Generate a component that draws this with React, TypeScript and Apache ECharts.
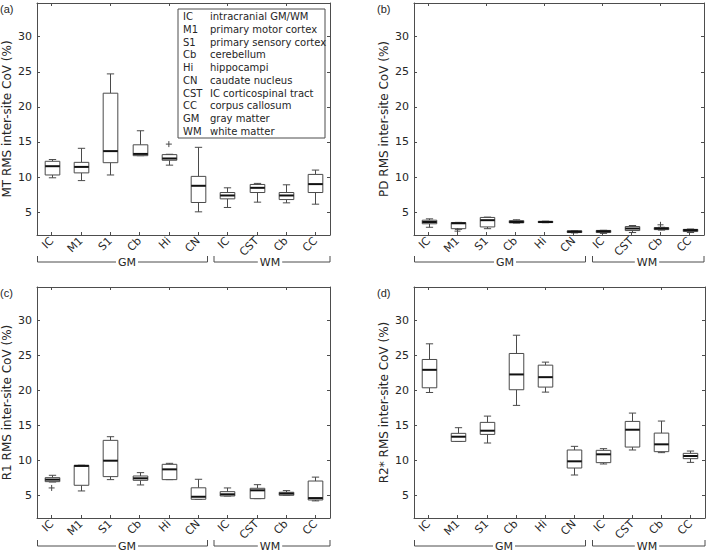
import React, { useEffect, useRef } from "react";
import * as echarts from "echarts";

const categories = ["IC", "M1", "S1", "Cb", "Hi", "CN", "IC", "CST", "Cb", "CC"];
const yTicks = [5, 10, 15, 20, 25, 30];

// [lower whisker, Q1, median, Q3, upper whisker]
const mtStats = [
  [9.9, 10.3, 11.55, 12.25, 12.5],
  [9.5, 10.6, 11.45, 12.1, 14.1],
  [10.3, 12.05, 13.7, 21.95, 24.7],
  [13.05, 13.05, 13.3, 14.6, 16.6],
  [11.7, 12.4, 12.65, 13.2, 13.25],
  [5.05, 6.38, 8.76, 10.1, 14.24],
  [5.67, 6.9, 7.38, 7.8, 8.47],
  [6.43, 7.8, 8.47, 8.95, 9.1],
  [6.33, 6.8, 7.38, 7.8, 8.9],
  [6.14, 7.8, 9.0, 10.38, 11.0],
];
const mtOutliers = [[4, 14.7]];

const pdStats = [
  [2.85, 3.35, 3.6, 3.86, 4.05],
  [2.55, 2.65, 3.42, 3.52, 3.55],
  [2.65, 2.9, 3.86, 4.25, 4.3],
  [3.45, 3.48, 3.6, 3.8, 3.92],
  [3.5, 3.52, 3.6, 3.7, 3.72],
  [2.05, 2.1, 2.22, 2.35, 2.38],
  [1.98, 2.1, 2.28, 2.4, 2.42],
  [2.1, 2.38, 2.67, 2.95, 3.1],
  [2.45, 2.52, 2.68, 2.8, 2.85],
  [2.1, 2.24, 2.45, 2.55, 2.6],
];
const pdOutliers = [[1, 2.3], [8, 3.2]];

const r1Stats = [
  [6.9, 6.95, 7.24, 7.52, 7.86],
  [5.62, 6.43, 9.2, 9.29, 9.3],
  [7.24, 7.67, 9.95, 12.86, 13.38],
  [6.48, 7.14, 7.43, 7.76, 8.24],
  [7.24, 7.24, 8.71, 9.43, 9.57],
  [4.43, 4.43, 4.79, 6.07, 7.29],
  [4.9, 4.9, 5.14, 5.52, 6.05],
  [4.52, 4.52, 5.71, 6.0, 6.52],
  [5.0, 5.0, 5.24, 5.43, 5.67],
  [4.2, 4.33, 4.6, 7.04, 7.6],
];
const r1Outliers = [[0, 6.05]];

const r2Stats = [
  [19.71, 20.38, 22.95, 24.43, 26.67],
  [12.71, 12.71, 13.38, 13.86, 14.67],
  [12.48, 13.71, 14.24, 15.43, 16.33],
  [17.86, 20.1, 22.29, 25.29, 27.9],
  [19.76, 20.48, 21.9, 23.62, 24.05],
  [7.9, 8.9, 9.86, 11.48, 12.0],
  [9.48, 9.67, 10.86, 11.43, 11.67],
  [11.48, 11.9, 14.38, 15.57, 16.76],
  [11.1, 11.24, 12.29, 13.9, 15.62],
  [9.71, 10.24, 10.62, 11.0, 11.33],
];
const r2Outliers: number[][] = [];

const yNames = [
  "MT RMS inter-site CoV (%)",
  "PD RMS inter-site CoV (%)",
  "R1 RMS inter-site CoV (%)",
  "R2* RMS inter-site CoV (%)",
];
const panelLabels = ["(a)", "(b)", "(c)", "(d)"];
const groupNames = ["GM", "WM"];

const legendAbbr = ["IC", "M1", "S1", "Cb", "Hi", "CN", "CST", "CC", "GM", "WM"];
const legendDesc = [
  "intracranial GM/WM",
  "primary motor cortex",
  "primary sensory cortex",
  "cerebellum",
  "hippocampi",
  "caudate nucleus",
  "IC corticospinal tract",
  "corpus callosum",
  "gray matter",
  "white matter",
];

const FONT = "DejaVu Sans";
const TEXT = "#262626";
const AXIS = "#4d4d4d";
const BOX = "#4a4a4a";

export default function App() {
  const ref = useRef<HTMLDivElement>(null);

  useEffect(() => {
    if (!ref.current) return;
    const chart = echarts.init(ref.current, null, { renderer: "svg" });

    const statsList = [mtStats, pdStats, r1Stats, r2Stats];
    const outList = [mtOutliers, pdOutliers, r1Outliers, r2Outliers];
    const grids = [
      { left: 37, top: 3, width: 293, height: 232 },
      { left: 414, top: 3, width: 290, height: 232 },
      { left: 37, top: 287, width: 293, height: 231 },
      { left: 414, top: 287, width: 291, height: 231 },
    ];
    const yMin = 1.75;
    const yMax = 34.8;

    const xAxes: any[] = [];
    const yAxes: any[] = [];
    const series: any[] = [];

    grids.forEach((g, i) => {
      xAxes.push({
        type: "category",
        gridIndex: i,
        data: categories,
        position: "bottom",
        boundaryGap: true,
        axisLine: { show: true, lineStyle: { color: AXIS, width: 1 } },
        axisTick: { show: true, alignWithLabel: true, inside: true, length: 3, lineStyle: { color: AXIS } },
        axisLabel: { rotate: 45, fontSize: 11, margin: 4, color: TEXT, fontFamily: FONT, interval: 0 },
        splitLine: { show: false },
      });
      xAxes.push({
        type: "category",
        gridIndex: i,
        data: categories,
        position: "top",
        boundaryGap: true,
        axisLine: { show: true, lineStyle: { color: AXIS, width: 1 } },
        axisTick: { show: true, alignWithLabel: true, inside: true, length: 3, lineStyle: { color: AXIS } },
        axisLabel: { show: false },
        splitLine: { show: false },
      });
      yAxes.push({
        type: "value",
        gridIndex: i,
        min: yMin,
        max: yMax,
        position: "left",
        name: yNames[i],
        nameLocation: "middle",
        nameGap: 24,
        nameRotate: 90,
        nameTextStyle: { fontSize: 12, color: TEXT, fontFamily: FONT },
        axisLine: { show: true, lineStyle: { color: AXIS, width: 1 } },
        axisTick: { show: true, inside: true, length: 3, customValues: yTicks, lineStyle: { color: AXIS } },
        axisLabel: { customValues: yTicks, fontSize: 11, margin: 5, color: TEXT, fontFamily: FONT },
        splitLine: { show: false },
      });
      yAxes.push({
        type: "value",
        gridIndex: i,
        min: yMin,
        max: yMax,
        position: "right",
        axisLine: { show: true, lineStyle: { color: AXIS, width: 1 } },
        axisTick: { show: true, inside: true, length: 3, customValues: yTicks, lineStyle: { color: AXIS } },
        axisLabel: { show: false },
        splitLine: { show: false },
      });

      series.push({
        type: "custom",
        xAxisIndex: 2 * i,
        yAxisIndex: 2 * i,
        encode: { x: 0, y: [1, 2, 3, 4, 5] },
        data: statsList[i].map((s, k) => [k, ...s]),
        renderItem: (params: any, api: any) => {
          const k = api.value(0);
          const lo = api.coord([k, api.value(1)]);
          const q1 = api.coord([k, api.value(2)]);
          const md = api.coord([k, api.value(3)]);
          const q3 = api.coord([k, api.value(4)]);
          const hi = api.coord([k, api.value(5)]);
          const band = api.size([1, 0])[0];
          const hw = band * 0.25;
          const cw = band * 0.125;
          const cx = Math.round(lo[0]) + 0.5;
          const ls = { stroke: BOX, lineWidth: 1, fill: "none" };
          return {
            type: "group",
            children: [
              { type: "line", shape: { x1: cx, y1: hi[1], x2: cx, y2: q3[1] }, style: ls },
              { type: "line", shape: { x1: cx, y1: q1[1], x2: cx, y2: lo[1] }, style: ls },
              { type: "line", shape: { x1: cx - cw, y1: hi[1], x2: cx + cw, y2: hi[1] }, style: ls },
              { type: "line", shape: { x1: cx - cw, y1: lo[1], x2: cx + cw, y2: lo[1] }, style: ls },
              {
                type: "rect",
                shape: { x: cx - hw, y: q3[1], width: 2 * hw, height: Math.max(q1[1] - q3[1], 0.5) },
                style: { stroke: BOX, lineWidth: 1, fill: "#ffffff" },
              },
              { type: "line", shape: { x1: cx - hw, y1: md[1], x2: cx + hw, y2: md[1] }, style: { stroke: "#111111", lineWidth: 2 } },
            ],
          };
        },
      });
      series.push({
        type: "custom",
        xAxisIndex: 2 * i,
        yAxisIndex: 2 * i,
        encode: { x: 0, y: 1 },
        data: outList[i],
        renderItem: (params: any, api: any) => {
          const p = api.coord([api.value(0), api.value(1)]);
          const s = 3;
          const ls = { stroke: BOX, lineWidth: 1 };
          return {
            type: "group",
            children: [
              { type: "line", shape: { x1: p[0] - s, y1: p[1], x2: p[0] + s, y2: p[1] }, style: ls },
              { type: "line", shape: { x1: p[0], y1: p[1] - s, x2: p[0], y2: p[1] + s }, style: ls },
            ],
          };
        },
      });
    });

    const graphic: any[] = [];
    // panel labels
    const labelPos = [
      [0, 9],
      [377, 9],
      [0, 293],
      [377, 293],
    ];
    labelPos.forEach((p, i) => {
      graphic.push({
        type: "text",
        x: p[0],
        y: p[1],
        style: { text: panelLabels[i], fontSize: 11, fill: TEXT, font: `11px "${FONT}"`, verticalAlign: "middle" },
      });
    });

    // group brackets
    const brackets = [
      { y: 262, spans: [[37.5, 207.5, 127], [214, 330, 270]] },
      { y: 262, spans: [[414.5, 585.5, 505], [592.5, 704, 647]] },
      { y: 546, spans: [[37.5, 207.5, 127], [214, 330, 270]] },
      { y: 546, spans: [[414.5, 585.5, 504], [592.5, 705, 647]] },
    ];
    brackets.forEach((b) => {
      b.spans.forEach((s, j) => {
        graphic.push({
          type: "polyline",
          shape: { points: [[s[0], b.y - 6], [s[0], b.y], [s[1], b.y], [s[1], b.y - 6]] },
          style: { stroke: AXIS, lineWidth: 1, fill: "none" },
        });
        graphic.push({
          type: "text",
          x: s[2],
          y: b.y,
          style: {
            text: groupNames[j],
            font: `11px "${FONT}"`,
            fill: TEXT,
            align: "center",
            verticalAlign: "middle",
            backgroundColor: "#ffffff",
            padding: [0, 2],
          },
        });
      });
    });

    // legend box in panel (a)
    const legendChildren: any[] = [
      {
        type: "rect",
        shape: { x: 178, y: 9, width: 147, height: 129 },
        style: { fill: "#ffffff", stroke: AXIS, lineWidth: 1 },
      },
    ];
    legendAbbr.forEach((a, k) => {
      const y = 16.5 + k * 12.75;
      legendChildren.push({
        type: "text",
        x: 183,
        y,
        style: { text: a, font: `10px "${FONT}"`, fill: TEXT, verticalAlign: "middle" },
      });
      legendChildren.push({
        type: "text",
        x: 210,
        y,
        style: { text: legendDesc[k], font: `10px "${FONT}"`, fill: TEXT, verticalAlign: "middle" },
      });
    });
    graphic.push({ type: "group", children: legendChildren, z: 100 });

    chart.setOption({
      animation: false,
      backgroundColor: "#ffffff",
      textStyle: { fontFamily: FONT },
      grid: grids.map((g) => ({ ...g, containLabel: false })),
      xAxis: xAxes,
      yAxis: yAxes,
      series,
      graphic,
    });

    return () => chart.dispose();
  }, []);

  return (
    <div
      ref={ref}
      style={{ position: "fixed", left: 0, top: 0, width: 709, height: 551, background: "#fff" }}
    />
  );
}
